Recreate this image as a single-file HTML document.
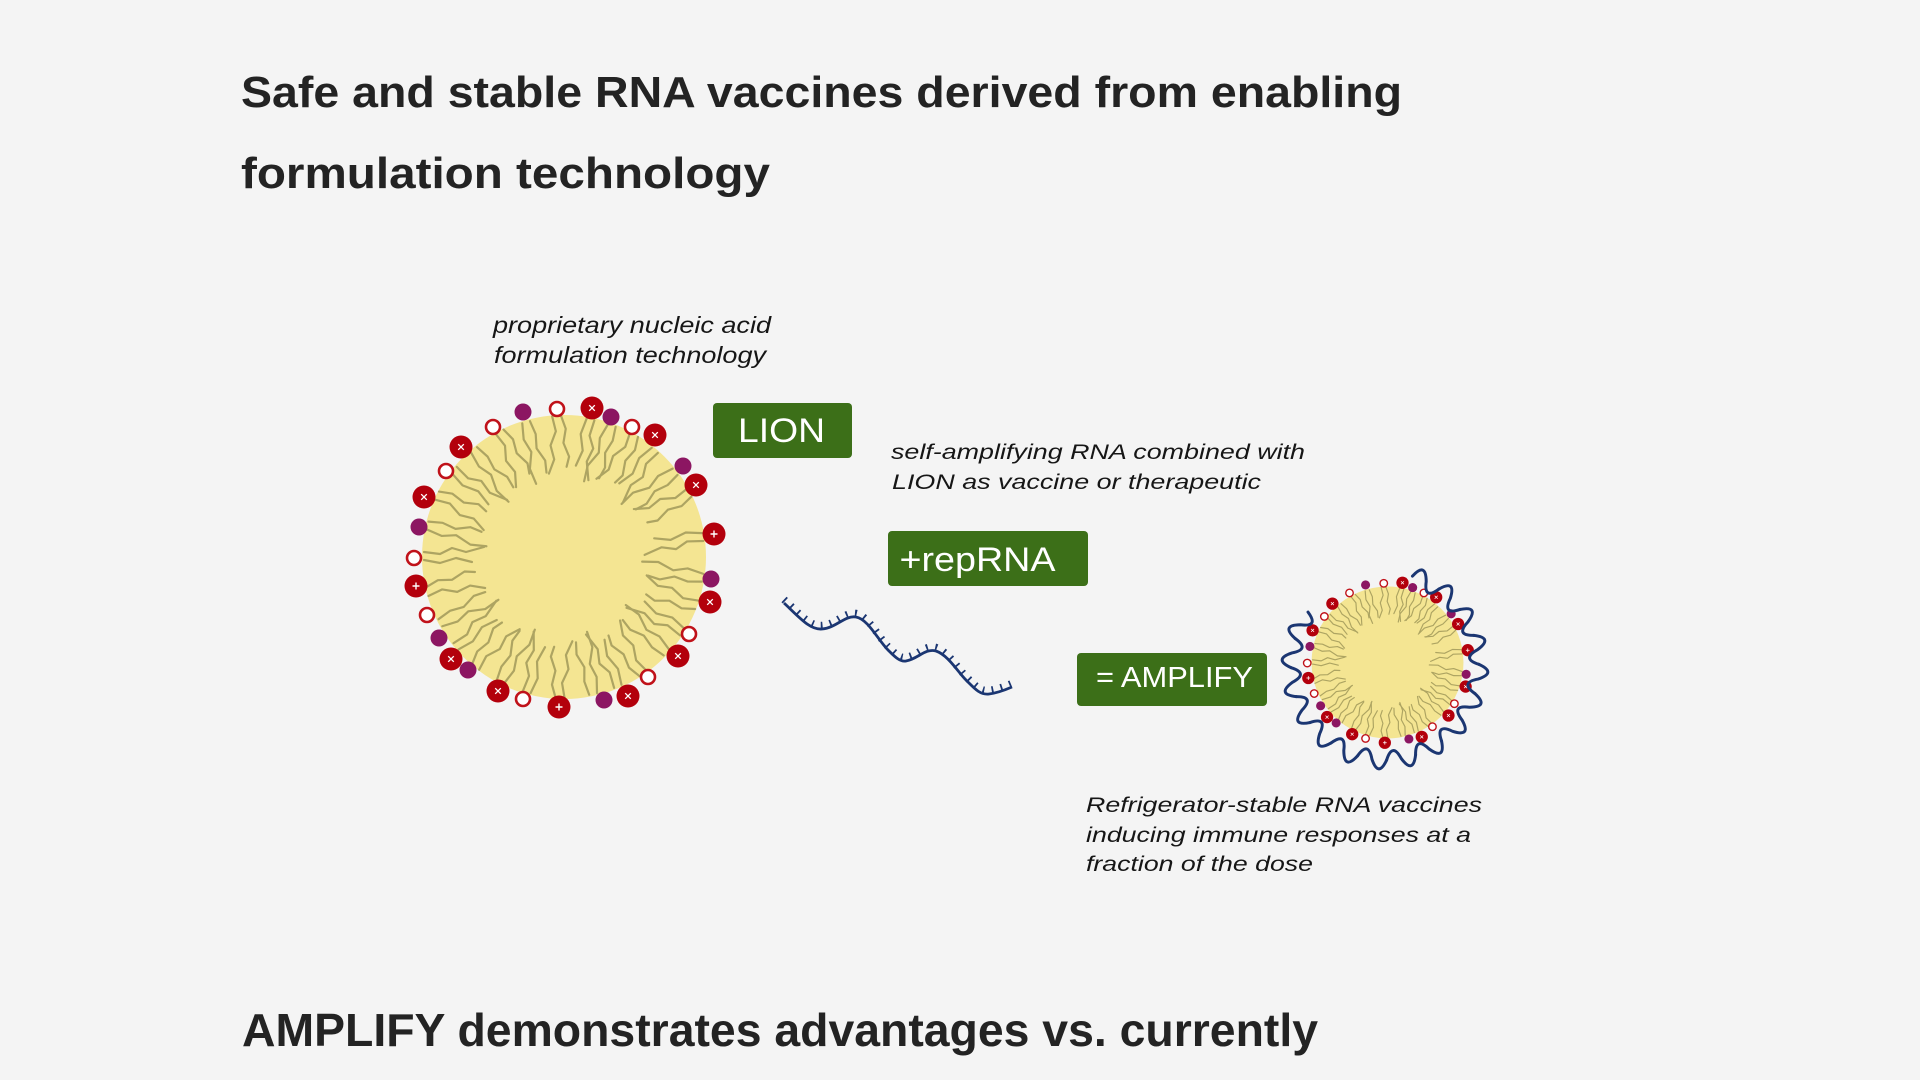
<!DOCTYPE html>
<html>
<head>
<meta charset="utf-8">
<style>
  html,body{margin:0;padding:0;background:#f4f4f4;}
  body{width:1920px;height:1080px;overflow:hidden;}
  svg{display:block;}
  .ttl{font-family:"Liberation Sans",sans-serif;font-weight:bold;fill:#232323;}
  .it{font-family:"Liberation Sans",sans-serif;font-style:italic;fill:#161616;}
  .bx{font-family:"Liberation Sans",sans-serif;fill:#ffffff;}
</style>
</head>
<body>
<svg width="1920" height="1080" viewBox="0 0 1920 1080" xmlns="http://www.w3.org/2000/svg">
  <defs>
    <!-- lipid tail variants (local: top of particle, pointing to center) -->
    <path id="tA" d="M-4,-140 L-7,-124 L-3,-110 L-9,-94 L-7,-78 M4,-140 L6,-126 L3,-112 L8,-98 L6,-86"/>
    <path id="tB" d="M-5,-141 L-2,-126 L-8,-112 L-5,-98 L-11,-84 M4,-141 L8,-128 L5,-114 L10,-100 L7,-90"/>
    <path id="tC" d="M-3,-140 L-6,-124 L-1,-108 L-5,-92 M5,-140 L3,-124 L9,-112 L5,-98 L10,-80"/>
    <!-- heads -->
    <g id="rx"><circle r="11.5" fill="#b3000c"/><path d="M-2.8,-2.8L2.8,2.8M-2.8,2.8L2.8,-2.8" stroke="#fff" stroke-width="1.3"/></g>
    <g id="rp"><circle r="11.5" fill="#b3000c"/><path d="M-3.5,0H3.5M0,-3.5V3.5" stroke="#fff" stroke-width="1.4"/></g>
    <circle id="pu" r="8.5" fill="#8c1662"/>
    <circle id="op" r="7" fill="#ffffff" stroke="#c0121a" stroke-width="2.6"/>

    <g id="particle">
      <circle r="142" fill="#f4e592"/>
      <g stroke="#968f52" stroke-width="2.2" fill="none" stroke-linejoin="round" stroke-linecap="round" opacity="0.75">
        <use href="#tA" transform="rotate(-15.7)"/>
        <use href="#tB" transform="rotate(-2.8)"/>
        <use href="#tC" transform="rotate(10.5)"/>
        <use href="#tA" transform="rotate(20)"/>
        <use href="#tB" transform="rotate(30)"/>
        <use href="#tC" transform="rotate(40)"/>
        <use href="#tA" transform="rotate(52.5)"/>
        <use href="#tB" transform="rotate(63)"/>
        <use href="#tC" transform="rotate(81.4)"/>
        <use href="#tA" transform="rotate(98.5)"/>
        <use href="#tB" transform="rotate(110)"/>
        <use href="#tC" transform="rotate(122)"/>
        <use href="#tA" transform="rotate(133)"/>
        <use href="#tB" transform="rotate(146)"/>
        <use href="#tC" transform="rotate(157)"/>
        <use href="#tA" transform="rotate(168)"/>
        <use href="#tB" transform="rotate(181.8)"/>
        <use href="#tC" transform="rotate(195)"/>
        <use href="#tA" transform="rotate(207)"/>
        <use href="#tB" transform="rotate(219)"/>
        <use href="#tC" transform="rotate(230)"/>
        <use href="#tA" transform="rotate(242)"/>
        <use href="#tB" transform="rotate(256)"/>
        <use href="#tC" transform="rotate(270)"/>
        <use href="#tA" transform="rotate(283)"/>
        <use href="#tB" transform="rotate(296)"/>
        <use href="#tC" transform="rotate(308)"/>
        <use href="#tA" transform="rotate(320)"/>
        <use href="#tB" transform="rotate(333)"/>
      </g>
      <use href="#pu" x="-41" y="-145"/>
      <use href="#op" x="-7" y="-148"/>
      <use href="#rx" x="28" y="-149"/>
      <use href="#pu" x="47" y="-140"/>
      <use href="#op" x="68" y="-130"/>
      <use href="#rx" x="91" y="-122"/>
      <use href="#pu" x="119" y="-91"/>
      <use href="#rx" x="132" y="-72"/>
      <use href="#rp" x="150" y="-23"/>
      <use href="#pu" x="147" y="22"/>
      <use href="#rx" x="146" y="45"/>
      <use href="#op" x="125" y="77"/>
      <use href="#rx" x="114" y="99"/>
      <use href="#op" x="84" y="120"/>
      <use href="#rx" x="64" y="139"/>
      <use href="#pu" x="40" y="143"/>
      <use href="#rp" x="-5" y="150"/>
      <use href="#op" x="-41" y="142"/>
      <use href="#rx" x="-66" y="134"/>
      <use href="#pu" x="-96" y="113"/>
      <use href="#rx" x="-113" y="102"/>
      <use href="#pu" x="-125" y="81"/>
      <use href="#op" x="-137" y="58"/>
      <use href="#rp" x="-148" y="29"/>
      <use href="#op" x="-150" y="1"/>
      <use href="#pu" x="-145" y="-30"/>
      <use href="#rx" x="-140" y="-60"/>
      <use href="#op" x="-118" y="-86"/>
      <use href="#rx" x="-103" y="-110"/>
      <use href="#op" x="-71" y="-130"/>
    </g>

    <path id="strand" d="M784,603 C800,618 810,630 822,629 C836,628 845,615 856,617 C868,619 878,640 888,650 C895,657 900,662 906,661 C918,659 925,648 936,651 C948,655 958,672 966,680 C975,689 980,695 989,694 C997,693 1005,690 1012,687"/>
    <path id="wseg" d="M-14.7,-92.8 Q-9,-112 0,-94 Q6,-76 14.7,-92.8"/>
  </defs>

  <rect width="1920" height="1080" fill="#f4f4f4"/>

  <!-- Title -->
  <text class="ttl" x="241" y="107" font-size="44" textLength="1161" lengthAdjust="spacingAndGlyphs">Safe and stable RNA vaccines derived from enabling</text>
  <text class="ttl" x="241" y="188" font-size="44" textLength="529" lengthAdjust="spacingAndGlyphs">formulation technology</text>

  <!-- Labels -->
  <text class="it" x="493" y="333" font-size="23.5" textLength="278" lengthAdjust="spacingAndGlyphs">proprietary nucleic acid</text>
  <text class="it" x="494" y="363" font-size="23.5" textLength="272" lengthAdjust="spacingAndGlyphs">formulation technology</text>

  <text class="it" x="891" y="459" font-size="21.5" textLength="414" lengthAdjust="spacingAndGlyphs">self-amplifying RNA combined with</text>
  <text class="it" x="892" y="489" font-size="21.5" textLength="369" lengthAdjust="spacingAndGlyphs">LION as vaccine or therapeutic</text>

  <text class="it" x="1086" y="812" font-size="21.5" textLength="396" lengthAdjust="spacingAndGlyphs">Refrigerator-stable RNA vaccines</text>
  <text class="it" x="1086" y="842" font-size="21.5" textLength="385" lengthAdjust="spacingAndGlyphs">inducing immune responses at a</text>
  <text class="it" x="1086" y="871" font-size="21.5" textLength="227" lengthAdjust="spacingAndGlyphs">fraction of the dose</text>

  <!-- Green boxes -->
  <rect x="713" y="403" width="139" height="55" rx="4" fill="#3c6f18"/>
  <text class="bx" x="738" y="442" font-size="34" textLength="87" lengthAdjust="spacingAndGlyphs">LION</text>

  <rect x="888" y="531" width="200" height="55" rx="4" fill="#3c6f18"/>
  <text class="bx" x="899.5" y="571" font-size="34.5" textLength="156" lengthAdjust="spacingAndGlyphs">+repRNA</text>

  <rect x="1077" y="653" width="190" height="53" rx="4" fill="#3c6f18"/>
  <text class="bx" x="1096" y="687" font-size="29" textLength="157" lengthAdjust="spacingAndGlyphs">= AMPLIFY</text>

  <!-- Big LION particle -->
  <use href="#particle" transform="translate(564,557)"/>

  <!-- RNA strand -->
  <g fill="none" stroke="#1b3672" stroke-linecap="butt" stroke-linejoin="round">
    <use href="#strand" stroke-width="2.8"/>
    <use href="#strand" transform="translate(0,-3.5)" stroke-width="7.5" stroke-dasharray="1.8 7.4"/>
  </g>

  <!-- Small AMPLIFY particle with wrapped RNA -->
  <use href="#particle" transform="translate(1387.5,662.5) scale(0.535)"/>
  <g fill="none" stroke="#1b3672" stroke-width="3" stroke-linecap="round" stroke-linejoin="round">
    <use href="#wseg" transform="translate(1385,666) rotate(26)"/>
    <use href="#wseg" transform="translate(1385,666) rotate(44)"/>
    <use href="#wseg" transform="translate(1385,666) rotate(62)"/>
    <use href="#wseg" transform="translate(1385,666) rotate(80)"/>
    <use href="#wseg" transform="translate(1385,666) rotate(98)"/>
    <use href="#wseg" transform="translate(1385,666) rotate(116)"/>
    <use href="#wseg" transform="translate(1385,666) rotate(134)"/>
    <use href="#wseg" transform="translate(1385,666) rotate(152)"/>
    <use href="#wseg" transform="translate(1385,666) rotate(170)"/>
    <use href="#wseg" transform="translate(1385,666) rotate(188)"/>
    <use href="#wseg" transform="translate(1385,666) rotate(206)"/>
    <use href="#wseg" transform="translate(1385,666) rotate(224)"/>
    <use href="#wseg" transform="translate(1385,666) rotate(242)"/>
    <use href="#wseg" transform="translate(1385,666) rotate(260)"/>
    <use href="#wseg" transform="translate(1385,666) rotate(278)"/>
    <use href="#wseg" transform="translate(1385,666) rotate(296)"/>
  </g>

  <!-- Bottom heading -->
  <text class="ttl" x="242" y="1046" font-size="46" textLength="1076" lengthAdjust="spacingAndGlyphs">AMPLIFY demonstrates advantages vs. currently</text>
</svg>
</body>
</html>
